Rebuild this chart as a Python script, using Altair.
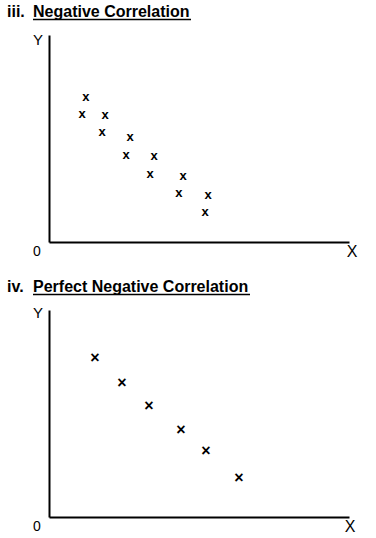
import altair as alt
import pandas as pd

# Panel iii: Negative Correlation (axis units 0-10)
neg_x = [1.23, 1.10, 1.87, 1.77, 2.70, 2.57, 3.50, 3.37, 4.47, 4.33, 5.30, 5.20]
neg_y = [7.00, 6.18, 6.14, 5.31, 5.07, 4.20, 4.15, 3.29, 3.19, 2.37, 2.27, 1.45]

# Panel iv: Perfect Negative Correlation
perf_x = [1.53, 2.43, 3.33, 4.40, 5.23, 6.33]
perf_y = [7.68, 6.47, 5.36, 4.20, 3.19, 1.88]

titles = [("iii.", "Negative Correlation"), ("iv.", "Perfect Negative Correlation")]
axis_labels = ["Y", "0", "X"]

FONT = "Liberation Sans"
W, H = 300, 207


def panel(xs, ys, marker, msize, prefix, main, ul_end, ylab_y, xlab_x):
    df = pd.DataFrame({"x": xs, "y": ys})
    one = alt.Data(values=[{"k": 0}])
    pts = alt.Chart(df).mark_text(text=marker, font=FONT, fontSize=msize, fontWeight="bold",
                                  color="black", align="center", baseline="middle").encode(
        x=alt.X("x:Q", scale=alt.Scale(domain=[0, 10], nice=False),
                axis=alt.Axis(title=None, labels=False, ticks=False, grid=False,
                              domainColor="black", domainWidth=2)),
        y=alt.Y("y:Q", scale=alt.Scale(domain=[0, 10], nice=False),
                axis=alt.Axis(title=None, labels=False, ticks=False, grid=False,
                              domainColor="black", domainWidth=2)),
    )
    base = alt.Chart(one)
    t1 = base.mark_text(text=prefix, font=FONT, fontSize=16, fontWeight="bold",
                        align="left", baseline="middle", color="black").encode(
        x=alt.value(-42), y=alt.value(-23))
    t2 = base.mark_text(text=main, font=FONT, fontSize=16, fontWeight="bold",
                        align="left", baseline="middle", color="black").encode(
        x=alt.value(-16), y=alt.value(-23))
    ul = base.mark_rule(color="black", strokeWidth=1.5).encode(
        x=alt.value(-16), x2=alt.value(ul_end), y=alt.value(-15.5))
    ly = base.mark_text(text=axis_labels[0], font=FONT, fontSize=15,
                        align="center", baseline="middle", color="black").encode(
        x=alt.value(-11), y=alt.value(ylab_y))
    l0 = base.mark_text(text=axis_labels[1], font=FONT, fontSize=14,
                        align="center", baseline="middle", color="black").encode(
        x=alt.value(-12), y=alt.value(217))
    lx = base.mark_text(text=axis_labels[2], font=FONT, fontSize=16,
                        align="center", baseline="middle", color="black").encode(
        x=alt.value(xlab_x), y=alt.value(217))
    return alt.layer(pts, t1, t2, ul, ly, l0, lx).properties(width=W, height=H)


p1 = panel(neg_x, neg_y, "x", 13, titles[0][0], titles[0][1], 142, 5, 303)
p2 = panel(perf_x, perf_y, "×", 16, titles[1][0], titles[1][1], 201, 3, 301)

chart = alt.vconcat(p1, p2, spacing=68, bounds="flush").properties(
    padding={"left": 7, "top": 4, "right": 5, "bottom": 3},
    background="white",
).configure_view(stroke=None)

chart.save("out.html", embed_options={"renderer": "svg", "actions": False})
